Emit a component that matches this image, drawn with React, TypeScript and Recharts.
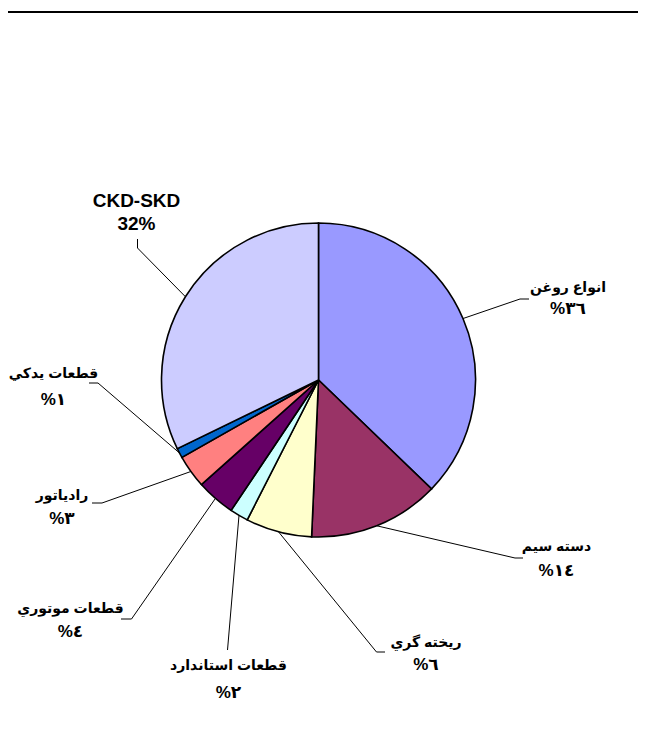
import React from 'react';
import { PieChart, Pie, Cell } from 'recharts';

// ---- data ----
const categories = [
  'انواع روغن',
  'دسته سيم',
  'ريخته گري',
  'قطعات استاندارد',
  'قطعات موتوري',
  'رادياتور',
  'قطعات يدكي',
  'CKD-SKD',
];
const shares = [37.2, 13.5, 6.8, 1.9, 4.0, 3.4, 1.0, 32.2];
const percentLabels = ['%٣٦', '%١٤', '%٦', '%٢', '%٤', '%٣', '%١', '32%'];
const colors = ['#9999FF', '#993366', '#FFFFCC', '#CCFFFF', '#660066', '#FF8080', '#0066CC', '#CCCCFF'];

const data = categories.map((name, i) => ({ name, value: shares[i], pct: percentLabels[i] }));

// ---- label layout (offsets from pie centre) ----
type LL = { ex: number; ey: number; hx?: number; hy?: number; tx: number; t1: number; t2: number };
const labelLayout: LL[] = [
  { ex: 201.5, ey: -81, hx: 210.5, hy: -81, tx: 249.5, t1: -93, t2: -72 },
  { ex: 196.5, ey: 178, hx: 204.5, hy: 178, tx: 238, t1: 166, t2: 190 },
  { ex: 58, ey: 272, hx: 66.5, hy: 272, tx: 107.5, t1: 261.5, t2: 284 },
  { ex: -91, ey: 270, tx: -90, t1: 285, t2: 312.5 },
  { ex: -187, ey: 239, hx: -197.5, hy: 239, tx: -248, t1: 228, t2: 251.5 },
  { ex: -216.5, ey: 123, hx: -226.5, hy: 123, tx: -256.5, t1: 115, t2: 138 },
  { ex: -220.5, ey: 3, hx: -229.5, hy: 3, tx: -265, t1: -7, t2: 19 },
  { ex: -181, ey: -132, hx: -181, hy: -141, tx: -182, t1: -180, t2: -157 },
];

const RAD = Math.PI / 180;
const FONT = "'Liberation Sans', Arial, 'DejaVu Sans', sans-serif";

const renderLabel = (props: any) => {
  const { cx, cy, midAngle, outerRadius, index } = props;
  const L = labelLayout[index];
  const sx = cx + outerRadius * Math.cos(-midAngle * RAD);
  const sy = cy + outerRadius * Math.sin(-midAngle * RAD);
  const pts: number[][] = [[sx, sy], [cx + L.ex, cy + L.ey]];
  if (L.hx !== undefined && L.hy !== undefined) pts.push([cx + L.hx, cy + L.hy]);
  const isLatin = index === 7;
  const fs = isLatin ? 19 : 14;
  return (
    <g key={`lbl-${index}`}>
      <polyline points={pts.map((p) => p.join(',')).join(' ')} fill="none" stroke="#000" strokeWidth={1} />
      <text x={cx + L.tx} y={cy + L.t1} textAnchor="middle" dominantBaseline="central" fontFamily={FONT} fontWeight="bold" fontSize={fs} fill="#000">
        {categories[index]}
      </text>
      <text x={cx + L.tx} y={cy + L.t2} textAnchor="middle" dominantBaseline="central" fontFamily={FONT} fontWeight="bold" fontSize={isLatin ? 19 : 17} fill="#000">
        {percentLabels[index]}
      </text>
    </g>
  );
};

export default function App() {
  return (
    <div
      style={{
        position: 'relative',
        width: 646,
        height: 743,
        marginTop: -8,
        marginLeft: -8,
        marginBottom: -8,
        background: '#fff',
        overflow: 'hidden',
      }}
    >
      <div style={{ position: 'absolute', top: 11, left: 4, width: 700, height: 2, background: '#000' }} />
      <div style={{ position: 'absolute', top: 0, left: 0 }}>
        <PieChart width={646} height={743} margin={{ top: 0, right: 0, bottom: 0, left: 0 }}>
          <Pie
            data={data}
            dataKey="value"
            nameKey="name"
            cx={318.5}
            cy={380}
            outerRadius={157}
            startAngle={90}
            endAngle={-270}
            stroke="#000"
            strokeWidth={1.6}
            label={renderLabel}
            labelLine={false}
            isAnimationActive={false}
          >
            {data.map((d, i) => (
              <Cell key={d.name} fill={colors[i]} />
            ))}
          </Pie>
        </PieChart>
      </div>
    </div>
  );
}
